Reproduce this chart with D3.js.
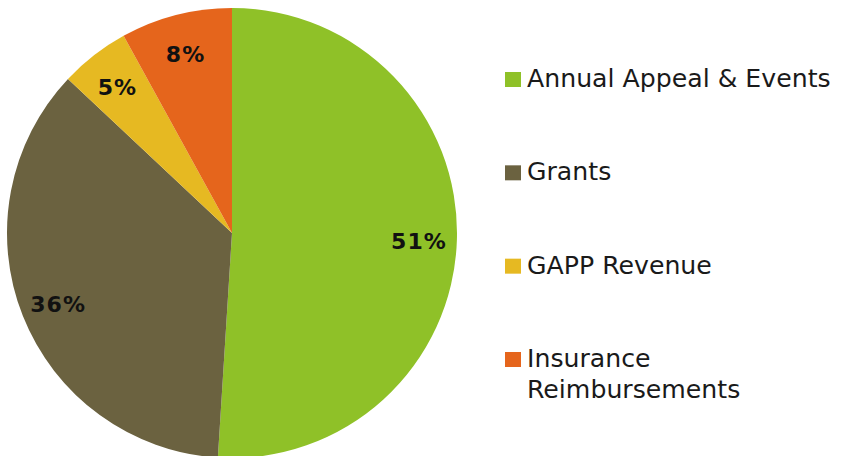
<!DOCTYPE html>
<html>
<head>
<meta charset="utf-8">
<script src="https://cdn.jsdelivr.net/npm/d3@7"></script>
<style>
  html, body { margin: 0; padding: 0; background: #fff; }
  svg { display: block; }
</style>
</head>
<body>
<div id="chart"></div>
<script>
var categories = ["Annual Appeal & Events", "Grants", "GAPP Revenue", "Insurance Reimbursements"];
var values = [51, 36, 5, 8];
var colors = ["#8fc128", "#6b6240", "#e6b922", "#e5651c"];
// legend lines (the last entry wraps over two lines)
var legendLines = [["Annual Appeal & Events"], ["Grants"], ["GAPP Revenue"], ["Insurance", "Reimbursements"]];

var width = 843, height = 456;
var center = [232, 233];
var radius = 225;

var svg = d3.select("#chart")
            .append("svg")
            .attr("width", width)
            .attr("height", height);

var pie = d3.pie().sort(null).value(function(d) { return d; });
var arcs = pie(values);

var arc = d3.arc().innerRadius(0).outerRadius(radius);
var labelArc = d3.arc().innerRadius(187).outerRadius(187);

var g = svg.append("g")
           .attr("transform", "translate(" + center[0] + "," + center[1] + ")");

g.selectAll("path.slice")
 .data(arcs)
 .enter()
 .append("path")
 .attr("class", "slice")
 .attr("d", arc)
 .style("fill", function(d, i) { return colors[i]; });

g.selectAll("text.pct")
 .data(arcs)
 .enter()
 .append("text")
 .attr("class", "pct")
 .attr("transform", function(d) { return "translate(" + labelArc.centroid(d) + ")"; })
 .attr("text-anchor", "middle")
 .attr("dy", "0.45em")
 .style("font-family", "DejaVu Sans")
 .style("font-weight", "bold")
 .style("font-size", "22px")
 .style("letter-spacing", "1px")
 .style("fill", "#111")
 .text(function(d) { return d.data + "%"; });

// Legend
var legendY = d3.scaleLinear().domain([0, 3]).range([87, 367]);

var legend = svg.selectAll("g.legend")
                .data(categories)
                .enter()
                .append("g")
                .attr("class", "legend")
                .attr("transform", function(d, i) { return "translate(505," + legendY(i) + ")"; });

legend.append("rect")
      .attr("x", 0)
      .attr("y", -15)
      .attr("width", 16)
      .attr("height", 15)
      .style("fill", function(d, i) { return colors[i]; });

legend.each(function(d, i) {
    var t = d3.select(this).append("text")
              .attr("x", 22)
              .attr("y", 0)
              .style("font-family", "DejaVu Sans")
              .style("font-size", "25.2px")
              .style("fill", "#1a1a1a");
    legendLines[i].forEach(function(line, j) {
        t.append("tspan")
         .attr("x", 22)
         .attr("dy", j === 0 ? 0 : 31)
         .text(line);
    });
});
</script>
</body>
</html>
